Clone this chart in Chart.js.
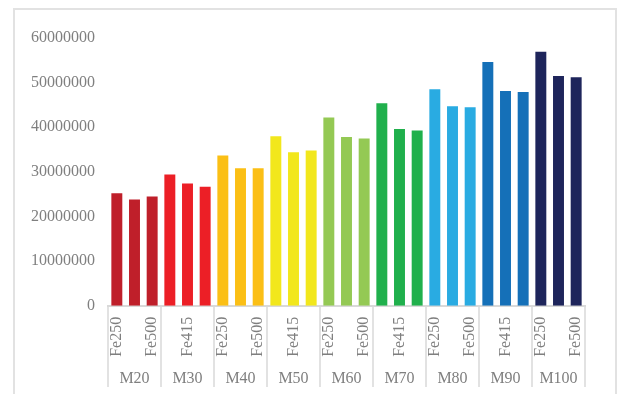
<!DOCTYPE html>
<html>
<head>
<meta charset="utf-8">
<script src="https://cdn.jsdelivr.net/npm/chart.js@4.4.1/dist/chart.umd.min.js"></script>
<style>
  html, body { margin: 0; padding: 0; background: #fff; }
  #frame {
    position: absolute;
    left: 13px;
    top: 8px;
    width: 600px;
    height: 400px;
    border: 2px solid #e2e2e2;
    border-bottom: none;
    background: #fff;
  }
  #wykres { display: block; }
</style>
</head>
<body>
<div id="frame">
  <canvas id="wykres" width="600" height="384"></canvas>
</div>
<script>
// concrete grades (outer axis level) and steel grades (inner level)
const grades = ['M20', 'M30', 'M40', 'M50', 'M60', 'M70', 'M80', 'M90', 'M100'];
const steels = ['Fe250', 'Fe415', 'Fe500'];

// values per steel grade, one per concrete grade
const fe250 = [25200000, 29400000, 33700000, 38000000, 42200000, 45400000, 48500000, 54600000, 56900000];
const fe415 = [23800000, 27400000, 30800000, 34400000, 37800000, 39600000, 44700000, 48100000, 51500000];
const fe500 = [24500000, 26700000, 30800000, 34800000, 37500000, 39300000, 44500000, 47900000, 51200000];

const yTicks = [0, 10000000, 20000000, 30000000, 40000000, 50000000, 60000000];

const gradeColors = ['#bf1f2a', '#ec1f26', '#fbbf15', '#f2e71c', '#94c954', '#20b04c', '#29abe2', '#1570b8', '#1e255b'];

const labels = [];
const values = [];
const colors = [];
grades.forEach((g, i) => {
  [fe250, fe415, fe500].forEach((arr, j) => {
    labels.push(steels[j]);
    values.push(arr[i]);
    colors.push(gradeColors[i]);
  });
});

const axisGray = '#d9d9d9';
const textGray = '#7f7f7f';

// vertical separators between the grade groups, through both label rows
const groupLines = {
  id: 'groupLines',
  afterDraw(chart) {
    const x = chart.scales.x;
    const x2 = chart.scales.x2;
    const step = x.getPixelForValue(1) - x.getPixelForValue(0);
    const ctx = chart.ctx;
    ctx.save();
    ctx.strokeStyle = axisGray;
    ctx.lineWidth = 1.5;
    for (let i = 0; i <= grades.length; i++) {
      const px = x.getPixelForValue(i * steels.length) - step / 2;
      ctx.beginPath();
      ctx.moveTo(px, x.top);
      ctx.lineTo(px, x2.bottom - 2);
      ctx.stroke();
    }
    ctx.restore();
  }
};

Chart.defaults.font.family = '"Liberation Serif", "Times New Roman", serif';
Chart.defaults.font.size = 16;
Chart.defaults.color = textGray;

new Chart(document.getElementById('wykres').getContext('2d'), {
  type: 'bar',
  data: {
    labels: labels,
    datasets: [{
      data: values,
      backgroundColor: colors,
      borderWidth: 0,
      categoryPercentage: 1,
      barPercentage: 0.62
    }]
  },
  options: {
    responsive: false,
    animation: false,
    layout: { padding: { left: 3, right: 30, top: 28, bottom: 5 } },
    plugins: {
      legend: { display: false },
      tooltip: { enabled: false }
    },
    scales: {
      x: {
        type: 'category',
        offset: true,
        grid: { display: false, drawTicks: false },
        border: { display: true, color: axisGray, width: 2 },
        ticks: {
          autoSkip: false,
          minRotation: 90,
          maxRotation: 90,
          padding: 11,
          color: textGray,
          callback: (v, i) => (i % 2 === 0 ? labels[i] : '')
        }
      },
      x2: {
        type: 'category',
        position: 'bottom',
        labels: grades,
        offset: true,
        grid: { display: false, drawTicks: false },
        border: { display: false },
        ticks: { padding: 1, color: textGray, autoSkip: false, maxRotation: 0 }
      },
      y: {
        min: 0,
        max: 60000000,
        afterBuildTicks: (scale) => { scale.ticks = yTicks.map(v => ({ value: v })); },
        grid: { display: false, drawTicks: false },
        border: { display: false },
        ticks: { padding: 13, color: textGray, callback: v => String(v) }
      }
    }
  },
  plugins: [groupLines]
});
</script>
</body>
</html>
